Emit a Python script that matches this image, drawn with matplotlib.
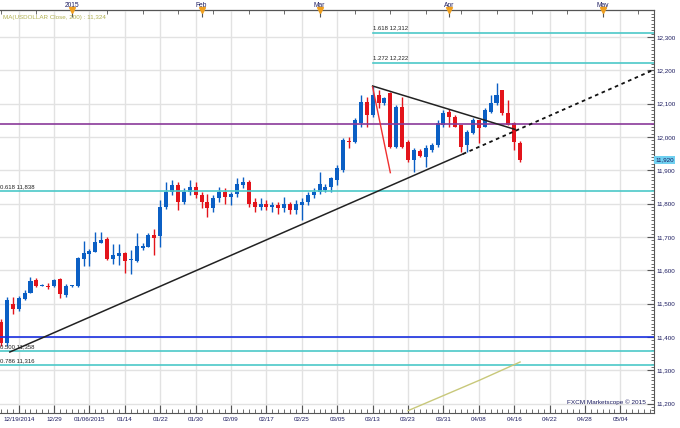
import matplotlib
matplotlib.use('Agg')
import matplotlib.pyplot as plt
from matplotlib.ticker import FixedLocator, MultipleLocator, FuncFormatter

plt.rcParams['font.family'] = ['Liberation Sans', 'DejaVu Sans']

# trading-day index of each candle (0 = 12/19/2014)
day = list(range(-3, 86))
opens = [11446, 11382, 11498, 11483, 11514, 11533, 11571, 11554, 11554, 11553,
         11574, 11526, 11552, 11553, 11633, 11649, 11656, 11683, 11694, 11634,
         11643, 11653, 11630, 11629, 11668, 11671, 11706, 11703, 11791, 11836,
         11856, 11806, 11836, 11850, 11826, 11806, 11786, 11816, 11836, 11820,
         11830, 11856, 11866, 11806, 11790, 11800, 11790, 11796, 11786, 11800,
         11780, 11796, 11806, 11826, 11836, 11840, 11850, 11871, 11901, 11989,
         11986, 12041, 12106, 12066, 12126, 12101, 12131, 11971, 12091, 11986,
         11931, 11959, 11941, 11961, 11976, 12036, 12076, 12061, 12036, 11976,
         12011, 12051, 12031, 12076, 12101, 12141, 12071, 12041, 11981]
highs = [11455, 11520, 11519, 11522, 11541, 11581, 11576, 11559, 11563, 11575,
         11578, 11558, 11557, 11639, 11688, 11664, 11716, 11714, 11699, 11679,
         11679, 11655, 11661, 11713, 11681, 11713, 11724, 11811, 11866, 11870,
         11866, 11846, 11870, 11866, 11836, 11830, 11826, 11850, 11846, 11836,
         11876, 11880, 11870, 11816, 11816, 11810, 11806, 11806, 11820, 11806,
         11810, 11816, 11836, 11846, 11896, 11860, 11880, 11916, 11996, 12001,
         12056, 12126, 12121, 12153, 12141, 12120, 12136, 12096, 12120, 11991,
         11966, 11963, 11976, 11981, 12051, 12081, 12083, 12066, 12036, 12021,
         12056, 12051, 12086, 12126, 12163, 12141, 12111, 12046, 11989]
lows = [11372, 11374, 11470, 11478, 11511, 11531, 11551, 11552, 11543, 11549,
        11516, 11519, 11551, 11549, 11613, 11613, 11654, 11681, 11631, 11619,
        11616, 11593, 11589, 11626, 11661, 11669, 11646, 11671, 11785, 11826,
        11780, 11800, 11826, 11816, 11786, 11760, 11776, 11806, 11800, 11796,
        11820, 11846, 11790, 11776, 11780, 11780, 11776, 11770, 11776, 11770,
        11770, 11750, 11796, 11816, 11830, 11835, 11835, 11856, 11896, 11966,
        11981, 12031, 12031, 12061, 12086, 12096, 11966, 11966, 11966, 11926,
        11896, 11939, 11911, 11956, 11971, 12031, 12031, 12029, 11956, 11956,
        12009, 11981, 12029, 12071, 12096, 12066, 12036, 11961, 11926]
closes = [11382, 11511, 11483, 11516, 11533, 11569, 11553, 11557, 11552, 11571,
          11529, 11553, 11555, 11636, 11651, 11658, 11686, 11691, 11633, 11646,
          11651, 11629, 11634, 11673, 11674, 11706, 11698, 11791, 11836, 11856,
          11806, 11836, 11850, 11826, 11806, 11786, 11816, 11836, 11820, 11830,
          11860, 11866, 11800, 11790, 11800, 11790, 11796, 11786, 11800, 11780,
          11800, 11806, 11826, 11836, 11860, 11850, 11876, 11906, 11991, 11986,
          12051, 12106, 12066, 12126, 12101, 12116, 11971, 12091, 11971, 11931,
          11961, 11943, 11966, 11976, 12041, 12071, 12061, 12031, 11971, 12016,
          12051, 12026, 12081, 12101, 12126, 12071, 12036, 11986, 11931]

# axis labels
date_pos = [0, 6, 12, 18, 24, 30, 36, 42, 48, 54, 60, 66, 72, 78, 84, 90, 96, 102]
date_labels = ['12/19/2014', '12/29', '01/06/2015', '01/14', '01/22', '01/30',
               '02/09', '02/17', '02/25', '03/05', '03/13', '03/23', '03/31',
               '04/08', '04/16', '04/22', '04/28', '05/04']
month_pos = [9, 31, 51, 73, 99]
month_labels = ['2015', 'Feb', 'Mar', 'Apr', 'May']

# horizontal levels
ext_values = [12312, 12222]
ext_labels = ['1.618 12,312', '1.272 12,222']
ext_start = 60
ret_values = [11838, 11358, 11316]
ret_labels = ['0.618 11,838', '0.500 11,358', '0.786 11,316']
purple_level = 12039
blue_level = 11400

# drawn trend lines
rise_x = [-1.5, 75.3]
rise_y = [11355, 11949]
rise_ext_x = [75.3, 107.7]
rise_ext_y = [11949, 12202]
fall_x = [60, 84.1]
fall_y = [12153, 12023]
red_x = [60, 63]
red_y = [12150, 11893]

# 200 day moving average
ma_x = [66, 78.2, 85]
ma_y = [11179, 11271, 11325]

navy = '#1c1c60'
blue = '#0b5fc4'
red = '#e3141b'
cyan = '#4cc8c8'

fig = plt.figure(figsize=(6.8, 4.28), dpi=100)
ax = fig.add_axes([0, 15 / 428, 654 / 680, 403 / 428])
ax.set_xlim(-3.17, 107.7)
ax.set_ylim(11172, 12381)

# candles
for d, o, h, l, c in zip(day, opens, highs, lows, closes):
    col = blue if c >= o else red
    ax.vlines(d, l, h, color=col, lw=1, zorder=2)
    body = c - o
    if abs(body) < 3:
        body = 3 if body >= 0 else -3
    ax.bar(d, body, bottom=o, width=0.68, color=col, lw=0, zorder=2)

# levels
for v, lab in zip(ext_values, ext_labels):
    ax.plot([ext_start, 107.7], [v, v], color=cyan, lw=1.2, zorder=3)
    ax.annotate(lab, (ext_start, v), xytext=(0, 2), textcoords='offset points',
                fontsize=4.3, color='#222222', va='bottom')
for v, lab in zip(ret_values, ret_labels):
    ax.axhline(v, color=cyan, lw=1.2, zorder=3)
    ax.annotate(lab, (-3.1, v), xytext=(0, 1.5), textcoords='offset points',
                fontsize=4.3, color='#222222', va='bottom')
ax.axhline(purple_level, color='#8a3a9a', lw=1.2, zorder=3)
ax.axhline(blue_level, color='#1a30e0', lw=1.2, zorder=3)

# trend lines
ax.plot(rise_x, rise_y, color='#222222', lw=1.1, zorder=4)
ax.plot(rise_ext_x, rise_ext_y, color='#111111', lw=1.3, ls=(0, (2, 2)), zorder=4)
ax.plot(fall_x, fall_y, color='#222222', lw=1.1, zorder=4)
ax.plot(red_x, red_y, color='#f03030', lw=1, zorder=4)
ax.plot(ma_x, ma_y, color='#c8c87a', lw=1, zorder=3)

# grid and axes
ax.xaxis.set_major_locator(FixedLocator(date_pos))
ax.set_xticklabels(date_labels)
ax.xaxis.set_minor_locator(MultipleLocator(1))
ax.yaxis.set_major_locator(MultipleLocator(100))
ax.yaxis.set_minor_locator(MultipleLocator(10))
ax.yaxis.set_major_formatter(FuncFormatter(lambda v, p: f'{v:,.0f}'))
ax.yaxis.tick_right()
ax.grid(True, which='major', color='#e2e2e2', lw=1, zorder=0)
ax.spines['left'].set_visible(False)
for s in ['right', 'top', 'bottom']:
    ax.spines[s].set_color('#555555')
ax.tick_params(axis='y', which='major', direction='in', length=5, pad=2,
               labelsize=4.5, labelcolor=navy, color='#555555')
ax.tick_params(axis='y', which='minor', direction='in', length=2, color='#555555')
ax.tick_params(axis='x', which='major', direction='in', length=6, pad=3,
               labelsize=4.5, labelcolor=navy, color='#555555')
ax.tick_params(axis='x', which='minor', direction='in', length=3, color='#555555')

top = ax.secondary_xaxis('top')
top.set_xticks(month_pos, labels=month_labels)
top.xaxis.set_minor_locator(MultipleLocator(3))
top.tick_params(which='major', direction='in', length=5, pad=1,
                labelsize=4.8, labelcolor=navy, color='#555555')
top.tick_params(which='minor', direction='in', length=3, color='#555555')
ax.plot(month_pos, [1] * len(month_pos), transform=ax.get_xaxis_transform(),
        marker='v', ms=4, color='#f0a020', ls='none', clip_on=False, zorder=5)

# last price box
ax.text(1.002, closes[-1], '11,920', transform=ax.get_yaxis_transform(),
        fontsize=4.5, color=navy, va='center', ha='left',
        bbox=dict(boxstyle='square,pad=0.2', fc='#6fd0f0', ec='none'))

fig.text(3 / 680, 1 - 17 / 428, 'MA(USDOLLAR Close, 200) : 11,324',
         fontsize=4.5, color='#b0b050', va='center')
fig.text(646 / 680, 1 - 402 / 428, 'FXCM Marketscope \u00a9 2015',
         fontsize=4.6, color=navy, ha='right', va='center')

fig.savefig('out.png', dpi=100)
